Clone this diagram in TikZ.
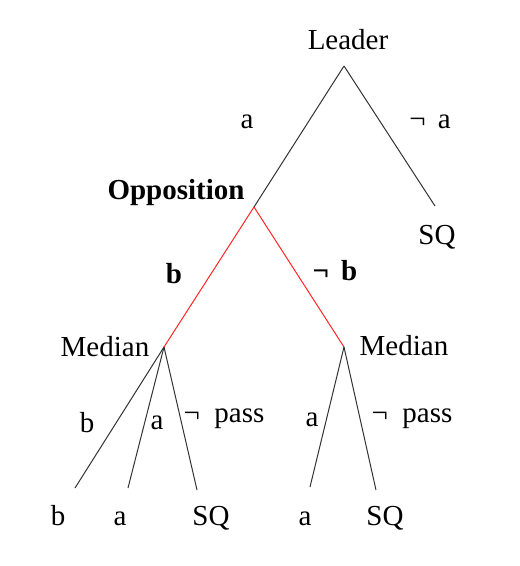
\documentclass[tikz,border=0pt]{standalone}
\usepackage{fontspec}
\setmainfont{Liberation Serif}
\begin{document}
\begin{tikzpicture}[x=1pt,y=-1pt,
  lbl/.style={inner sep=0pt,font=\fontsize{29}{33}\selectfont},
  blbl/.style={inner sep=0pt,font=\fontsize{29}{33}\selectfont\bfseries},
  edge/.style={draw=black!80,line width=1pt},
  redge/.style={draw=red!85!white,line width=1pt}]
\useasboundingbox (0,0) rectangle (520,566);
% branch points
\coordinate (L) at (344,66);
\coordinate (O) at (254,207);
\coordinate (SQ1) at (435,206);
\coordinate (M1) at (164,347);
\coordinate (M2) at (344,347);
\coordinate (l1) at (75,488);
\coordinate (l2) at (128,488);
\coordinate (l3) at (197,490);
\coordinate (l4) at (310,487);
\coordinate (l5) at (376,490);
% node texts
\node[lbl] (tL) at (348,40) {Leader};
\node[blbl] (tO) at (176,193) {Opposition};
\node[lbl] (tSQ1) at (437,237) {SQ};
\node[lbl] (tM1) at (105,347) {Median};
\node[lbl] (tM2) at (404,346) {Median};
\node[lbl] (tl1) at (58,516) {b};
\node[lbl] (tl2) at (120,519) {a};
\node[lbl] (tl3) at (211,518) {SQ};
\node[lbl] (tl4) at (305,519) {a};
\node[lbl] (tl5) at (385,518) {SQ};
% edge labels
\node[lbl] (ea) at (247,122) {a};
\node[lbl] (ena) at (430,122) {¬\,\ a};
\node[blbl] (eb) at (174,274) {b};
\node[blbl] (enb) at (335,271) {¬\,\ b};
\node[lbl] (eb2) at (87,423) {b};
\node[lbl] (ea2) at (157,423) {a};
\node[lbl] (enp1) at (224,419) {¬\ \ pass};
\node[lbl] (ea3) at (312,420) {a};
\node[lbl] (enp2) at (412,419) {¬\ \ pass};
% edges
\draw[edge] (L) -- (O);
\draw[edge] (L) -- (SQ1);
\draw[redge] (O) -- (M1);
\draw[redge] (O) -- (M2);
\draw[edge] (M1) -- (l1);
\draw[edge] (M1) -- (l2);
\draw[edge] (M1) -- (l3);
\draw[edge] (M2) -- (l4);
\draw[edge] (M2) -- (l5);
\end{tikzpicture}
\end{document}
